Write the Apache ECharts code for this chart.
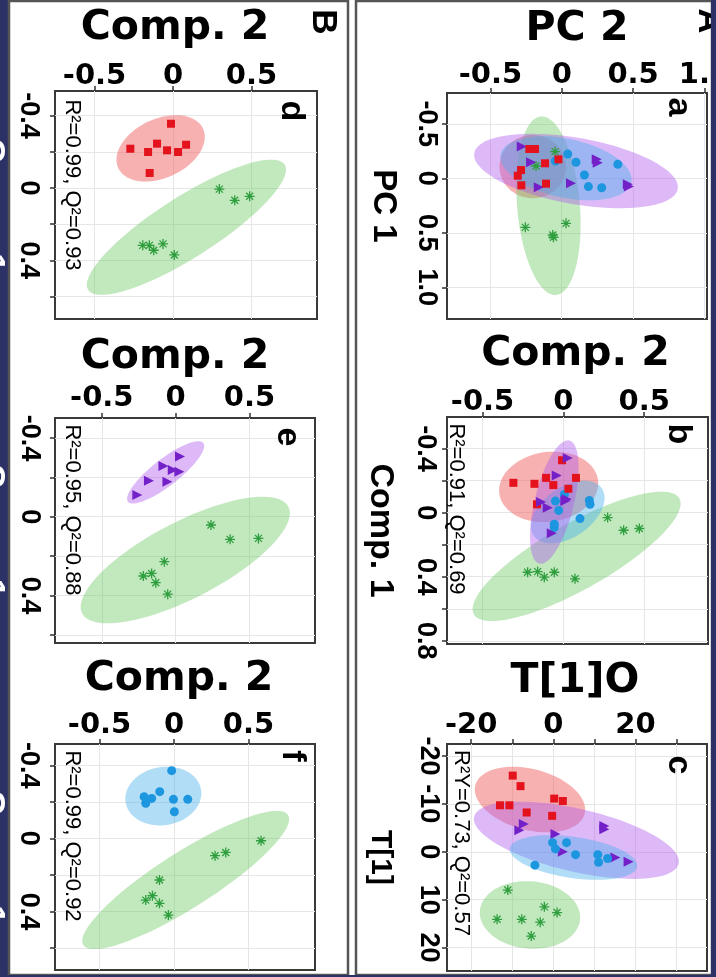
<!DOCTYPE html>
<html>
<head>
<meta charset="utf-8">
<script src="https://cdn.jsdelivr.net/npm/echarts@6/dist/echarts.min.js"></script>
<style>
    html, body { margin: 0; padding: 0; background: #fff; }
    #chart { width: 716px; height: 977px; }
</style>
</head>
<body>
<div id="chart"></div>
<script>
'use strict';

// ---- tick values / labels ----
var compTicksX = [-0.5, 0, 0.5];
var compTicksY = [-0.4, -0.2, 0, 0.2, 0.4, 0.6];
var compLabelsY = [-0.4, 0, 0.4];
var pcTicks = [-0.5, 0, 0.5, 1];
var bTicksY = [-0.4, -0.2, 0, 0.2, 0.4, 0.6, 0.8];
var bLabelsY = [-0.4, 0, 0.4, 0.8];
var cTicksX = [-20, -10, 0, 10, 20, 30];
var cLabelsX = [-20, 0, 20];
var cTicksY = [-20, -10, 0, 10, 20];

// ---- points [x, y] ----
// panel d
var dRed = [[-0.013, -0.355], [-0.272, -0.217], [-0.159, -0.199], [-0.102, -0.245], [-0.038, -0.208], [0.032, -0.199], [0.083, -0.239], [-0.149, -0.083]];
var dGreen = [[0.295, 0.006], [0.393, 0.068], [0.488, 0.046], [-0.193, 0.317], [-0.151, 0.317], [-0.123, 0.344], [-0.064, 0.309], [0.008, 0.370]];
// panel e
var eViolet = [[0.029, -0.305], [-0.083, -0.257], [-0.020, -0.237], [0.025, -0.228], [-0.181, -0.183], [-0.056, -0.178], [-0.260, -0.110]];
var eGreen = [[0.239, 0.042], [0.368, 0.115], [0.560, 0.110], [-0.077, 0.228], [-0.219, 0.301], [-0.163, 0.288], [-0.135, 0.335], [-0.054, 0.393]];
// panel f
var fBlue = [[-0.016, -0.371], [-0.096, -0.256], [-0.201, -0.228], [-0.150, -0.219], [-0.190, -0.192], [-0.004, -0.214], [0.092, -0.214], [0.002, -0.146]];
var fGreen = [[0.584, 0.013], [0.347, 0.077], [0.275, 0.095], [-0.098, 0.228], [-0.145, 0.314], [-0.190, 0.338], [-0.098, 0.356], [-0.038, 0.420]];
// panel a
var aRed = [[-0.227, -0.269], [-0.187, -0.269], [-0.117, -0.138], [-0.285, -0.076], [-0.308, -0.024], [-0.283, 0.064], [-0.110, 0.049], [-0.023, -0.174]];
var aViolet = [[-0.280, -0.291], [-0.215, -0.147], [-0.161, 0.083], [0.065, 0.046], [0.245, -0.174], [0.252, -0.144], [0.463, 0.055], [0.470, 0.076]];
var aBlue = [[-0.044, -0.159], [0.042, -0.223], [0.100, -0.147], [0.159, -0.031], [0.187, 0.076], [0.280, 0.086], [0.393, -0.128]];
var aGreen = [[-0.047, -0.245], [-0.180, -0.113], [-0.255, 0.450], [-0.063, 0.520], [-0.058, 0.541], [0.030, 0.413]];
// panel b
var bRed = [[-0.008, -0.327], [-0.107, -0.217], [-0.309, -0.186], [-0.179, -0.180], [-0.062, -0.172], [0.078, -0.217], [0.031, -0.149], [-0.163, -0.052]];
var bViolet = [[0.027, -0.341], [-0.041, -0.232], [-0.138, -0.066], [-0.097, -0.031], [0.012, -0.072], [0.021, -0.083], [-0.072, 0.128]];
var bBlue = [[0.006, -0.114], [-0.049, -0.072], [-0.029, -0.014], [0.161, -0.076], [0.165, -0.052], [0.103, 0.037], [-0.056, 0.072], [-0.056, 0.093]];
var bGreen = [[0.274, 0.031], [0.373, 0.110], [0.470, 0.099], [-0.221, 0.372], [-0.159, 0.368], [-0.118, 0.403], [-0.056, 0.372], [0.072, 0.413]];
// panel c
var cRed = [[-9.9, -15.9], [-8.0, -13.7], [-13.0, -9.7], [-10.7, -9.7], [-6.5, -8.2], [0.2, -11.1], [2.3, -10.6], [-0.3, -7.5]];
var cViolet = [[-7.2, -5.8], [-8.3, -4.5], [0.5, -3.7], [2.3, 0.0], [12.4, -5.4], [12.4, -4.7], [15.1, 1.2], [18.3, 2.1]];
var cBlue = [[-0.2, -1.9], [0.5, -0.6], [3.2, -1.9], [5.4, 0.6], [10.8, 0.6], [11.0, 2.2], [13.2, 1.4], [-4.5, 2.8]];
var cGreen = [[-11.1, 8.0], [-2.2, 11.5], [0.9, 12.7], [-13.7, 14.1], [-7.7, 14.1], [-3.2, 14.7], [-5.4, 17.6]];

// ---- ellipses: [centerX, centerY, majorTipX, majorTipY, minor/major ratio] ----
var dRedEll = [-0.079, -0.219, 0.191, -0.328, 0.63];
var dGreenEll = [0.085, 0.217, 0.711, -0.129, 0.26];
var eVioletEll = [-0.068, -0.225, 0.187, -0.374, 0.28];
var eGreenEll = [0.065, 0.220, 0.763, -0.051, 0.33];
var fBlueEll = [-0.072, -0.232, 0.181, -0.268, 0.76];
var fGreenEll = [0.078, 0.228, 0.765, -0.128, 0.23];
var aRedEll = [-0.203, -0.107, 0.030, -0.107, 0.95];
var aVioletEll = [0.100, -0.067, 0.813, 0.098, 0.32];
var aBlueEll = [0.030, -0.092, 0.488, 0.037, 0.44];
var aGreenEll = [-0.093, 0.251, -0.040, 1.070, 0.35];
var bRedEll = [-0.091, -0.161, 0.214, -0.205, 0.70];
var bVioletEll = [-0.056, -0.066, 0.037, -0.450, 0.31];
var bBlueEll = [0.027, -0.004, 0.237, -0.153, 0.60];
var bGreenEll = [0.082, 0.273, 0.718, -0.089, 0.28];
var cRedEll = [-5.7, -10.9, 7.6, -7.9, 0.54];
var cVioletEll = [5.6, -2.4, 30.5, 2.5, 0.30];
var cBlueEll = [4.9, 1.2, 20.4, 3.1, 0.32];
var cGreenEll = [-5.7, 13.2, 6.5, 14.1, 0.67];

var STAR = 'path://M-1.3,-10L1.3,-10L1.3,10L-1.3,10Z M-10,-1.3L10,-1.3L10,1.3L-10,1.3Z M-7.9,-6.1L-6.1,-7.9L7.9,6.1L6.1,7.9Z M6.1,-7.9L7.9,-6.1L-6.1,7.9L-7.9,6.1Z';

var groups = {
    red: {symbol: 'rect', size: 8, rotate: 0, color: '#e3121c', fill: 'rgba(238,90,90,0.47)'},
    green: {symbol: STAR, size: 10, rotate: 0, color: '#2f9e3e', fill: 'rgba(110,200,100,0.42)'},
    blue: {symbol: 'circle', size: 9, rotate: 0, color: '#1d96e0', fill: 'rgba(70,175,235,0.42)'},
    violet: {symbol: 'triangle', size: 10, rotate: -90, color: '#7320c8', fill: 'rgba(175,90,235,0.42)'}
};

var H_FONT = 'DejaVu Sans';
var R_FONT = 'Liberation Sans';

function fmt(v) {
    return v === 1 ? '1.0' : String(v);
}

// grid index: 0 d, 1 e, 2 f, 3 a, 4 b, 5 c
var panels = [
    {left: 55, top: 91, width: 262, height: 228, xMin: -0.752, xMax: 0.917, yMin: -0.536, yMax: 0.724,
        xTicks: compTicksX, xLabels: compTicksX, yTicks: compTicksY, yLabels: compLabelsY,
        xName: 'Comp. 2', yName: 'Comp. 1', xLabelMargin: 0, xNameGap: 42, xNameShift: -11,
        yLabelMargin: 13, yNameGap: 47, yNameColor: '#fff', yNameSize: 34},
    {left: 55, top: 418, width: 260, height: 225, xMin: -0.817, xMax: 0.943, yMin: -0.501, yMax: 0.641,
        xTicks: compTicksX, xLabels: compTicksX, yTicks: compTicksY, yLabels: compLabelsY,
        xName: 'Comp. 2', yName: 'Comp. 1', xLabelMargin: 5, xNameGap: 40, xNameShift: -10,
        yLabelMargin: 12, yNameGap: 47, yNameColor: '#fff', yNameSize: 34},
    {left: 55, top: 744, width: 260, height: 226, xMin: -0.799, xMax: 0.946, yMin: -0.517, yMax: 0.721,
        xTicks: compTicksX, xLabels: compTicksX, yTicks: compTicksY, yLabels: compLabelsY,
        xName: 'Comp. 2', yName: 'Comp. 1', xLabelMargin: 4, xNameGap: 44, xNameShift: -6,
        yLabelMargin: 13, yNameGap: 47, yNameColor: '#fff', yNameSize: 34},
    {left: 447, top: 93, width: 260, height: 226, xMin: -0.804, xMax: 1.018, yMin: -0.783, yMax: 1.291,
        xTicks: pcTicks, xLabels: pcTicks, yTicks: pcTicks, yLabels: pcTicks,
        xName: 'PC 2', yName: 'PC 1', xLabelMargin: 3, xNameGap: 43, xNameShift: 0,
        yLabelMargin: 7, yNameGap: 47, yNameColor: '#000', yNameSize: 33},
    {left: 447, top: 417, width: 261, height: 227, xMin: -0.720, xMax: 0.895, yMin: -0.597, yMax: 0.82,
        xTicks: compTicksX, xLabels: compTicksX, yTicks: bTicksY, yLabels: bLabelsY,
        xName: 'Comp. 2', yName: 'Comp. 1', xLabelMargin: 0, xNameGap: 42, xNameShift: -2,
        yLabelMargin: 8, yNameGap: 50, yNameColor: '#000', yNameSize: 34},
    {left: 447, top: 744, width: 260, height: 227, xMin: -25.9, xMax: 37.4, yMin: -22.5, yMax: 24.9,
        xTicks: cTicksX, xLabels: cLabelsX, yTicks: cTicksY, yLabels: cTicksY,
        xName: 'T[1]O', yName: 'T[1]', xLabelMargin: 4, xNameGap: 42, xNameShift: -2,
        yLabelMargin: 5, yNameGap: 52, yNameColor: '#000', yNameSize: 30}
];

var grids = [], xAxes = [], yAxes = [];
panels.forEach(function (p, i) {
    grids.push({left: p.left, top: p.top, width: p.width, height: p.height, show: true,
        containLabel: false, outerBoundsMode: 'none',
        borderColor: '#3a3a3a', borderWidth: 2, backgroundColor: 'transparent'});
    var shiftPad = p.xNameShift < 0 ? [0, -2 * p.xNameShift, 0, 0] : [0, 0, 0, 2 * p.xNameShift];
    xAxes.push({
        gridIndex: i, type: 'value', position: 'top', min: p.xMin, max: p.xMax,
        name: p.xName, nameLocation: 'middle', nameGap: p.xNameGap, nameMoveOverlap: false,
        nameTextStyle: {fontFamily: H_FONT, fontWeight: 'bold', fontSize: 41, color: '#000', padding: shiftPad},
        axisLine: {show: false, onZero: false},
        axisTick: {show: true, length: 5, customValues: p.xTicks, lineStyle: {color: '#333', width: 1.5}},
        axisLabel: {customValues: p.xLabels, margin: p.xLabelMargin, formatter: fmt,
            fontFamily: H_FONT, fontWeight: 'bold', fontSize: 29, color: '#000'},
        splitLine: {show: true, lineStyle: {color: '#e6e6e6', width: 1}}
    });
    yAxes.push({
        gridIndex: i, type: 'value', inverse: true, min: p.yMin, max: p.yMax,
        name: p.yName, nameLocation: 'middle', nameRotate: -90, nameGap: p.yNameGap, nameMoveOverlap: false,
        nameTextStyle: {fontFamily: R_FONT, fontWeight: 'bold', fontSize: p.yNameSize, color: p.yNameColor},
        axisLine: {show: false, onZero: false},
        axisTick: {show: true, length: 5, customValues: p.yTicks, lineStyle: {color: '#333', width: 1.5}},
        axisLabel: {customValues: p.yLabels, rotate: -90, margin: p.yLabelMargin, formatter: fmt,
            fontFamily: R_FONT, fontWeight: 'bold', fontSize: 27, color: '#000'},
        splitLine: {show: true, lineStyle: {color: '#e6e6e6', width: 1}}
    });
});

function renderEllipse(params, api) {
    var c = api.coord([api.value(0), api.value(1)]);
    var t = api.coord([api.value(2), api.value(3)]);
    var r = api.value(4);
    var ux = t[0] - c[0], uy = t[1] - c[1];
    var vx = -uy * r, vy = ux * r;
    var pts = [];
    for (var k = 0; k < 90; k++) {
        var a = k / 90 * Math.PI * 2;
        pts.push([c[0] + Math.cos(a) * ux + Math.sin(a) * vx, c[1] + Math.cos(a) * uy + Math.sin(a) * vy]);
    }
    return {type: 'polygon', shape: {points: pts}, style: {fill: api.visual('color')}};
}

var series = [];
function addEllipse(idx, ell, g) {
    series.push({
        type: 'custom', xAxisIndex: idx, yAxisIndex: idx, renderItem: renderEllipse,
        data: [ell], itemStyle: {color: groups[g].fill}, silent: true, clip: false, z: 1
    });
}
function addPoints(idx, pts, g) {
    var s = groups[g];
    series.push({
        type: 'scatter', xAxisIndex: idx, yAxisIndex: idx, data: pts,
        symbol: s.symbol, symbolSize: s.size, symbolRotate: s.rotate,
        itemStyle: {color: s.color, opacity: 1}, silent: true, z: 3
    });
}

// d
addEllipse(0, dRedEll, 'red'); addEllipse(0, dGreenEll, 'green');
addPoints(0, dRed, 'red'); addPoints(0, dGreen, 'green');
// e
addEllipse(1, eVioletEll, 'violet'); addEllipse(1, eGreenEll, 'green');
addPoints(1, eViolet, 'violet'); addPoints(1, eGreen, 'green');
// f
addEllipse(2, fBlueEll, 'blue'); addEllipse(2, fGreenEll, 'green');
addPoints(2, fBlue, 'blue'); addPoints(2, fGreen, 'green');
// a
addEllipse(3, aRedEll, 'red'); addEllipse(3, aGreenEll, 'green');
addEllipse(3, aVioletEll, 'violet'); addEllipse(3, aBlueEll, 'blue');
addPoints(3, aGreen, 'green'); addPoints(3, aBlue, 'blue');
addPoints(3, aViolet, 'violet'); addPoints(3, aRed, 'red');
// b
addEllipse(4, bRedEll, 'red'); addEllipse(4, bGreenEll, 'green');
addEllipse(4, bBlueEll, 'blue'); addEllipse(4, bVioletEll, 'violet');
addPoints(4, bGreen, 'green'); addPoints(4, bBlue, 'blue');
addPoints(4, bRed, 'red'); addPoints(4, bViolet, 'violet');
// c
addEllipse(5, cRedEll, 'red'); addEllipse(5, cVioletEll, 'violet');
addEllipse(5, cBlueEll, 'blue'); addEllipse(5, cGreenEll, 'green');
addPoints(5, cRed, 'red'); addPoints(5, cViolet, 'violet');
addPoints(5, cBlue, 'blue'); addPoints(5, cGreen, 'green');

function rotText(x, y, text, font) {
    return {type: 'text', x: x, y: y, rotation: -Math.PI / 2, z: 50,
        style: {text: text, font: font, fill: '#000', align: 'center', verticalAlign: 'middle',
            textAlign: 'center', textVerticalAlign: 'middle'}};
}

var LETTER = 'bold 34px "Liberation Sans"';
var STAT = '22px "Liberation Sans"';

var graphics = [
    {type: 'rect', z: -100, shape: {x: 0, y: 0, width: 10, height: 977}, style: {fill: '#2c3166'}},
    {type: 'rect', z: 40, shape: {x: 9, y: 1, width: 339, height: 974}, style: {fill: 'none', stroke: '#555', lineWidth: 2.5}},
    {type: 'rect', z: 40, shape: {x: 356, y: 1, width: 356, height: 974}, style: {fill: 'none', stroke: '#555', lineWidth: 2.5}},
    rotText(323, 22, 'B', 'bold 35px "Liberation Sans"'),
    rotText(709, 21, 'A', 'bold 35px "Liberation Sans"'),
    rotText(291, 111, 'd', LETTER),
    rotText(287, 437, 'e', LETTER),
    rotText(292, 756, 'f', LETTER),
    rotText(678, 107, 'a', LETTER),
    rotText(678, 434, 'b', LETTER),
    rotText(678, 765, 'c', LETTER),
    rotText(72, 185, 'R\u00b2=0.99, Q\u00b2=0.93', STAT),
    rotText(72, 510, 'R\u00b2=0.95, Q\u00b2=0.88', STAT),
    rotText(72, 836, 'R\u00b2=0.99, Q\u00b2=0.92', STAT),
    rotText(456, 509, 'R\u00b2=0.91, Q\u00b2=0.69', STAT),
    rotText(461, 843, 'R\u00b2Y=0.73, Q\u00b2=0.57', STAT),
    {type: 'rect', z: 100, shape: {x: 711, y: 0, width: 5, height: 977}, style: {fill: '#2c3166'}},
    {type: 'rect', z: 100, shape: {x: 0, y: 975, width: 716, height: 2}, style: {fill: '#2c3166'}}
];

var chart = echarts.init(document.getElementById('chart'));
chart.setOption({
    backgroundColor: '#ffffff',
    animation: false,
    grid: grids,
    xAxis: xAxes,
    yAxis: yAxes,
    series: series,
    graphic: graphics
});
</script>
</body>
</html>
